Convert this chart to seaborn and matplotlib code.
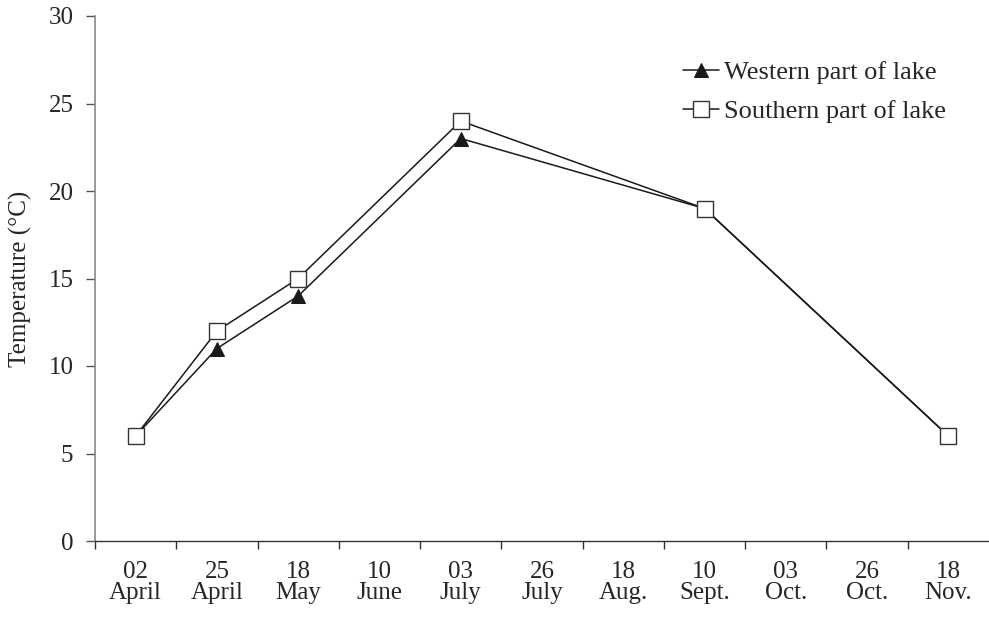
import numpy as np
import pandas as pd
import matplotlib
matplotlib.use('Agg')
import matplotlib.pyplot as plt
import seaborn as sns

sns.set_style('white')
plt.rcParams['font.family'] = ['Liberation Serif', 'DejaVu Serif']

dates = ['02\nApril', '25\nApril', '18\nMay', '10\nJune', '03\nJuly', '26\nJuly',
         '18\nAug.', '10\nSept.', '03\nOct.', '26\nOct.', '18\nNov.']
# sampled dates only (others have no measurement)
western = [6, 11, 14, np.nan, 23, np.nan, np.nan, 19, np.nan, np.nan, 6]
southern = [6, 12, 15, np.nan, 24, np.nan, np.nan, 19, np.nan, np.nan, 6]

pos = np.arange(len(dates))
df_w = pd.DataFrame({'pos': pos, 'temp': western}).dropna()
df_s = pd.DataFrame({'pos': pos, 'temp': southern}).dropna()

fig = plt.figure(figsize=(9.89, 6.19), dpi=100)
ax = fig.add_axes([95/989, 1 - 541/619, 1 - 95/989, (541 - 16)/619])

sns.lineplot(data=df_w, x='pos', y='temp', ax=ax, color='#1a1a1a', linewidth=1.1,
             marker='^', markersize=10, markerfacecolor='#1a1a1a',
             markeredgecolor='#1a1a1a', label='Western part of lake')
sns.lineplot(data=df_s, x='pos', y='temp', ax=ax, color='#1a1a1a', linewidth=1.1,
             marker='s', markersize=11, markerfacecolor='white',
             markeredgecolor='#333333', markeredgewidth=1.0,
             label='Southern part of lake')

ax.set_xlim(-0.5, 10.5)
ax.set_ylim(0, 30)
ax.set_yticks(range(0, 31, 5))
ax.set_xticks(pos)
ax.set_xticklabels(dates, fontsize=18, linespacing=0.95)
ax.set_xticks(np.arange(-0.5, 10.0, 1.0), minor=True)
ax.tick_params(axis='x', which='major', bottom=True, length=0, pad=14.5)
ax.tick_params(axis='x', which='minor', bottom=True, length=6, width=1,
               color='#333333', direction='out')
ax.tick_params(axis='y', left=True, length=6.5, width=1, color='#555555',
               direction='out', labelsize=18, pad=9)
ax.set_xlabel('')
ax.set_ylabel('Temperature (°C)', fontsize=18, labelpad=12)

for s in ['top', 'right']:
    ax.spines[s].set_visible(False)
ax.spines['left'].set_color('#888888')
ax.spines['bottom'].set_color('#333333')
ax.spines['left'].set_linewidth(1.2)
ax.spines['bottom'].set_linewidth(1)

leg = ax.legend(loc='upper left', bbox_to_anchor=(0.658, 0.915), frameon=False,
                fontsize=19, handlelength=1.36, handletextpad=0.19, labelspacing=0.6,
                borderaxespad=0, borderpad=0)

fig.savefig('out.png', dpi=100)
